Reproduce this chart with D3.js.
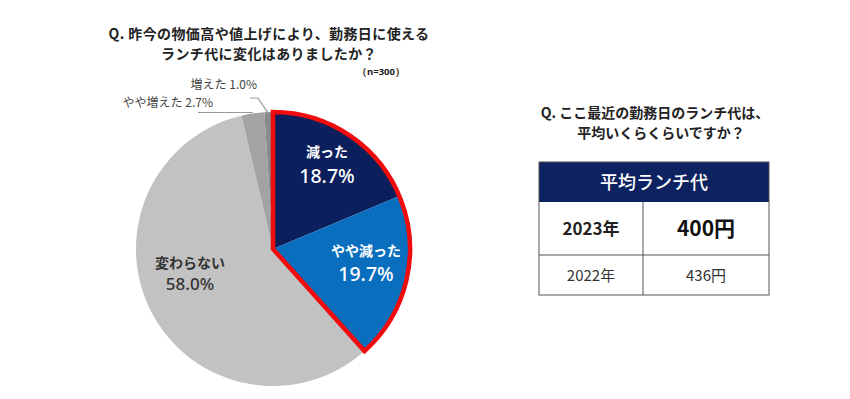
<!DOCTYPE html>
<html><head><meta charset="utf-8">
<script src="https://cdn.jsdelivr.net/npm/d3@7"></script>
<style>
html,body{margin:0;padding:0;background:#fff;}
svg{display:block;font-family:"Noto Sans CJK JP","Noto Sans",sans-serif;}
</style></head>
<body><svg id="c" width="850" height="399"></svg>
<script>
const categories = ["減った","やや減った","変わらない","やや増えた","増えた"];
const values = [18.7, 19.7, 58.0, 2.7, 1.0];
const colors = ["#0c1f5d","#0a6ebf","#c2c2c2","#a3a3a3","#8a8a8a"];
const highlighted = ["減った","やや減った"];
const tableHeader = "平均ランチ代";
const tableYears = ["2023年","2022年"];
const tablePrices = ["400円","436円"];

const svg = d3.select("#c");
const cx = 273, cy = 249, r = 137;

// Titles
svg.append("text").attr("x",269).attr("y",38.5).attr("text-anchor","middle")
  .attr("font-size",14).attr("letter-spacing",0.4).attr("font-weight","bold").attr("fill","#222")
  .text("Q. 昨今の物価高や値上げにより、勤務日に使える");
svg.append("text").attr("x",269).attr("y",58.5).attr("text-anchor","middle")
  .attr("font-size",14).attr("letter-spacing",0.4).attr("font-weight","bold").attr("fill","#222")
  .text("ランチ代に変化はありましたか？");
svg.append("text").attr("x",381).attr("y",75).attr("text-anchor","middle")
  .attr("font-family","'Noto Sans',sans-serif")
  .attr("font-size",9.5).attr("font-weight","bold").attr("fill","#222").text("（n=300）");

const g = svg.append("g").attr("transform",`translate(${cx},${cy})`);
const pie = d3.pie().sort(null).value(d=>d.v);
const data = pie(categories.map((c,i)=>({c, v:values[i], col:colors[i]})));
const arc = d3.arc().innerRadius(0).outerRadius(r);
g.selectAll("path.s").data(data).enter().append("path").attr("class","s")
  .attr("d",arc).attr("fill",d=>d.data.col);

// red outline around highlighted slices
const hl = data.filter(d=>highlighted.includes(d.data.c));
const start = d3.min(hl,d=>d.startAngle), end = d3.max(hl,d=>d.endAngle);
g.append("path").attr("d",d3.arc().innerRadius(0).outerRadius(r)({startAngle:start,endAngle:end}))
  .attr("fill","none").attr("stroke","#f00c0c").attr("stroke-width",4.5).attr("stroke-linejoin","miter");

// inside labels
const inner = [
  {i:0, x:327, y1:157, y2:183, fill:"#fff", fs1:14, fs2:19.5},
  {i:1, x:366, y1:256, y2:281, fill:"#fff", fs1:14, fs2:19.5},
  {i:2, x:190, y1:268, y2:290, fill:"#333", fs1:14, fs2:17}
];
inner.forEach(o=>{
  svg.append("text").attr("x",o.x).attr("y",o.y1).attr("text-anchor","middle")
    .attr("font-size",o.fs1).attr("font-weight","bold").attr("fill",o.fill).text(categories[o.i]);
  svg.append("text").attr("x",o.x).attr("y",o.y2).attr("text-anchor","middle")
    .attr("font-family","'Noto Sans',sans-serif")
    .attr("font-size",o.fs2).attr("font-weight",500).attr("fill",o.fill).text(values[o.i].toFixed(1)+"%");
});

// outside labels with leader lines
const edge = (d)=>{const a=(d.startAngle+d.endAngle)/2;return [cx+r*Math.sin(a), cy-r*Math.cos(a)];};
const e3 = edge(data[3]), e4 = edge(data[4]);
svg.append("polyline").attr("points",[[198,112.5],[e3[0],112.5]].join(" "))
  .attr("fill","none").attr("stroke","#999").attr("stroke-width",1.2);
svg.append("polyline").attr("points",[[250,98],[258,98],[e4[0],e4[1]+2]].join(" "))
  .attr("fill","none").attr("stroke","#999").attr("stroke-width",1.2);
svg.append("text").attr("x",257).attr("y",89).attr("text-anchor","end").attr("font-size",12)
  .attr("fill","#444").text(categories[4]+" "+values[4].toFixed(1)+"%");
svg.append("text").attr("x",213).attr("y",107).attr("text-anchor","end").attr("font-size",12)
  .attr("fill","#444").text(categories[3]+" "+values[3].toFixed(1)+"%");

// right side title
svg.append("text").attr("text-anchor","middle").attr("font-size",14)
  .attr("font-weight","bold").attr("fill","#222").attr("x",655).attr("y",118)
  .text("Q. ここ最近の勤務日のランチ代は、");
svg.append("text").attr("text-anchor","middle").attr("font-size",14)
  .attr("font-weight","bold").attr("fill","#222").attr("x",661).attr("y",138)
  .text("平均いくらくらいですか？");

// table
const tx0 = 539, tx1 = 769, tdiv = 643;
const ys = [162, 202, 255, 295];
svg.append("rect").attr("x",tx0).attr("y",ys[0]).attr("width",tx1-tx0).attr("height",ys[1]-ys[0]).attr("fill","#0d2260");
svg.append("text").attr("x",(tx0+tx1)/2).attr("y",189).attr("text-anchor","middle")
  .attr("font-size",18).attr("font-weight",500).attr("fill","#fff").text(tableHeader);
const bc = "#555";
svg.append("rect").attr("x",tx0).attr("y",ys[0]).attr("width",tx1-tx0).attr("height",ys[3]-ys[0])
  .attr("fill","none").attr("stroke",bc).attr("stroke-width",1);
svg.append("line").attr("x1",tx0).attr("x2",tx1).attr("y1",ys[2]).attr("y2",ys[2]).attr("stroke",bc);
svg.append("line").attr("x1",tdiv).attr("x2",tdiv).attr("y1",ys[1]).attr("y2",ys[3]).attr("stroke",bc);
svg.append("text").attr("x",(tx0+tdiv)/2).attr("y",235).attr("text-anchor","middle")
  .attr("font-size",17).attr("font-weight","bold").attr("fill","#222").text(tableYears[0]);
svg.append("text").attr("x",(tdiv+tx1)/2).attr("y",236).attr("text-anchor","middle")
  .attr("font-size",21).attr("font-weight","bold").attr("fill","#111").text(tablePrices[0]);
svg.append("text").attr("x",(tx0+tdiv)/2).attr("y",281).attr("text-anchor","middle")
  .attr("font-size",15).attr("fill","#333").text(tableYears[1]);
svg.append("text").attr("x",(tdiv+tx1)/2).attr("y",281).attr("text-anchor","middle")
  .attr("font-size",15).attr("fill","#333").text(tablePrices[1]);
</script></body></html>
